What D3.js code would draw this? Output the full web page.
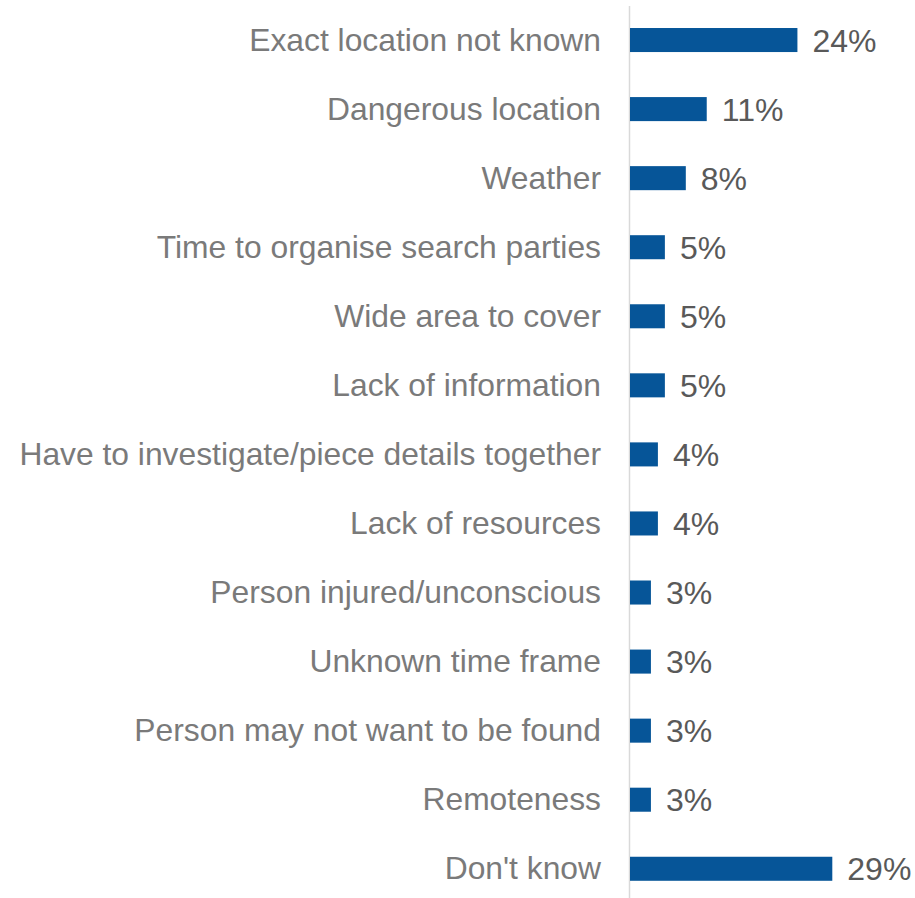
<!DOCTYPE html>
<html>
<head>
<meta charset="utf-8">
<script src="https://cdn.jsdelivr.net/npm/d3@7"></script>
<style>
  html, body { margin: 0; padding: 0; background: #fff; }
  svg { display: block; }
  text { font-family: "Liberation Sans", Arial, sans-serif; }
</style>
</head>
<body>
<svg id="chart" width="915" height="898"></svg>
<script>
// Reasons given for difficulty locating a person
const categories = [
  "Exact location not known",
  "Dangerous location",
  "Weather",
  "Time to organise search parties",
  "Wide area to cover",
  "Lack of information",
  "Have to investigate/piece details together",
  "Lack of resources",
  "Person injured/unconscious",
  "Unknown time frame",
  "Person may not want to be found",
  "Remoteness",
  "Don't know"
];
const values = [24, 11, 8, 5, 5, 5, 4, 4, 3, 3, 3, 3, 29];
const valueLabels = values.map(v => v + "%");

const svg = d3.select("#chart");
const axisX = 629.5;

const x = d3.scaleLinear().domain([0, 29]).range([630, 832.3]);
const y = d3.scaleBand().domain(categories).range([5.5, 903.3]).paddingInner(0.652).paddingOuter(0.326);

// vertical baseline
svg.append("line")
  .attr("x1", axisX).attr("x2", axisX)
  .attr("y1", 6).attr("y2", 898)
  .attr("stroke", "#d9d9d9").attr("stroke-width", 1.5);

// category labels
svg.append("g").selectAll("text")
  .data(categories)
  .join("text")
  .attr("x", 601)
  .attr("y", d => y(d) + y.bandwidth() / 2)
  .attr("dy", "0.33em")
  .attr("text-anchor", "end")
  .attr("font-size", 31.8)
  .attr("fill", "#7a7a7a")
  .text(d => d);

// bars
svg.append("g").selectAll("rect")
  .data(values)
  .join("rect")
  .attr("x", x(0))
  .attr("y", (d, i) => y(categories[i]))
  .attr("width", d => x(d) - x(0))
  .attr("height", y.bandwidth())
  .attr("fill", "#065598");

// value labels
svg.append("g").selectAll("text")
  .data(values)
  .join("text")
  .attr("x", d => x(d) + 15)
  .attr("y", (d, i) => y(categories[i]) + y.bandwidth() / 2)
  .attr("dy", "0.36em")
  .attr("font-size", 32)
  .attr("fill", "#595959")
  .text((d, i) => valueLabels[i]);
</script>
</body>
</html>
